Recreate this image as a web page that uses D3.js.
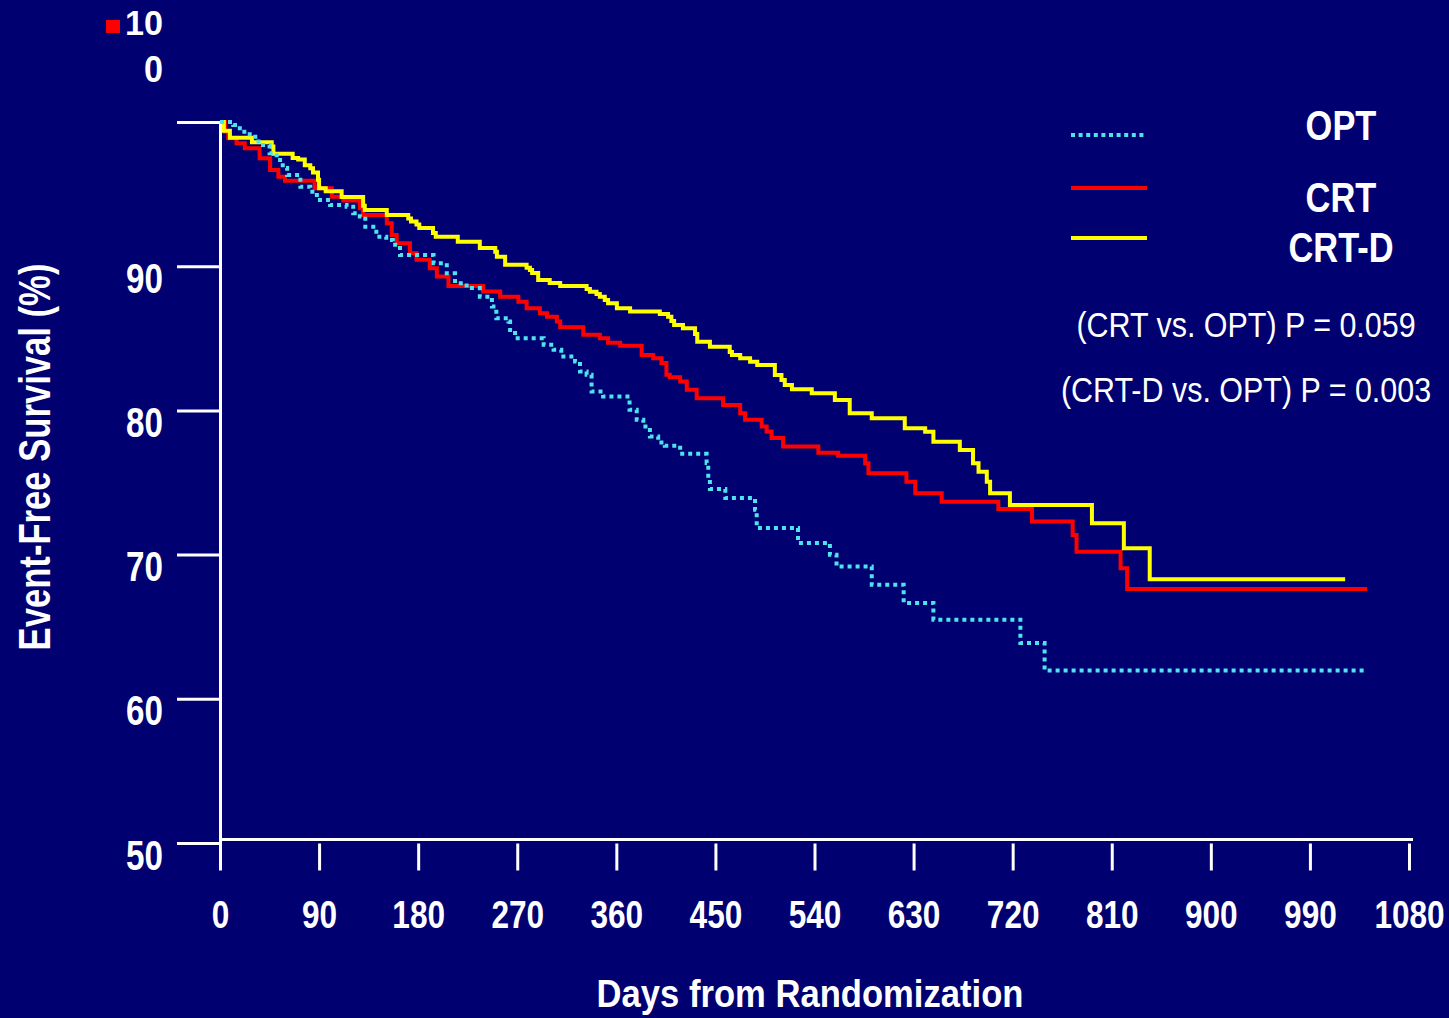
<!DOCTYPE html>
<html>
<head>
<meta charset="utf-8">
<script src="https://cdn.jsdelivr.net/npm/d3@7.9.0/dist/d3.min.js"></script>
<style>
  html, body { margin: 0; padding: 0; background: #000070; }
  svg { display: block; }
  text { font-family: "Liberation Sans Narrow", "Arial Narrow", "Liberation Sans", Arial, sans-serif; fill: #fff; }
</style>
</head>
<body>
<svg id="chart" width="1449" height="1018"></svg>
<script>
// step points (day, event-free survival %)
const optDays = [0, 12, 18, 27, 35, 45, 51.5, 57, 61, 73, 82, 88, 100, 115, 121, 127, 132, 142, 151, 157,
  163.5, 194, 206, 213.5, 224, 236, 247, 251, 262, 263.5, 268, 294, 303, 310, 322.5, 327, 333, 337.5, 348, 372,
  378.5, 384.5, 390.5, 398, 404, 418, 442, 443.5, 445, 459, 486, 487.5, 525, 554, 560, 592, 621, 648, 727, 749, 1042];
const optSurv = [100, 99.79, 99.33, 98.98, 98.41, 97.83, 97.37, 96.81, 96.33, 95.51, 95.17, 94.59, 94.25, 94.13, 93.67, 93.44, 92.74, 92.05, 91.82, 91.48,
  90.78, 90.21, 89.51, 88.82, 88.48, 87.89, 87.2, 86.39, 86.16, 85.58, 85.0, 84.55, 84.2, 83.73, 83.39, 82.7, 82.47, 81.31, 80.96, 80.04,
  79.35, 78.88, 78.19, 77.77, 77.55, 76.99, 76.35, 75.19, 74.55, 73.92, 73.11, 71.84, 70.8, 69.99, 69.18, 67.91, 66.65, 65.49, 63.87, 61.97, 61.97];

const crtDays = [0, 4.5, 7.5, 15, 22.5, 36, 45.5, 53, 59, 86, 101.5, 112, 127, 130, 151.5, 156, 160.5, 172.5, 178.5, 190.5,
  197, 207.5, 239, 254.5, 271, 278.5, 290.5, 297, 306, 309, 330, 345, 352.5, 363.5, 383, 393.5, 401, 405.5, 408.5, 418,
  424, 433, 457, 472.5, 477, 492, 496.5, 501, 511.5, 543.5, 561.5, 586, 589, 623.5, 631.5, 655.5, 707, 737.5, 774.5, 778,
  818, 824, 1042];
const crtSurv = [100, 99.33, 98.87, 98.52, 98.18, 97.48, 96.67, 96.21, 95.93, 95.4, 94.82, 94.55, 94.02, 93.55, 92.98, 92.17, 91.59, 90.9, 90.44, 89.86,
  89.28, 88.63, 88.24, 87.89, 87.54, 87.09, 86.74, 86.5, 86.16, 85.77, 85.24, 85.0, 84.7, 84.49, 83.85, 83.62, 83.28, 82.47, 82.3, 82.0,
  81.43, 80.85, 80.38, 79.8, 79.35, 78.88, 78.54, 78.08, 77.5, 77.07, 76.85, 76.33, 75.65, 75.06, 74.25, 73.67, 73.16, 72.3, 71.36, 70.2,
  69.05, 67.62, 67.62];

const crtdDays = [0, 3.5, 9, 29, 47, 48.5, 66, 71, 77, 82, 84.5, 89, 90, 96, 110.5, 130, 131.5, 151.5, 171, 173.5,
  178.5, 181, 193.5, 196, 216, 236, 250, 251.5, 259, 278.5, 281.5, 283.5, 289, 299.5, 309, 333, 336, 342, 345, 349.5,
  352.5, 360.5, 372.5, 399.5, 407, 410, 412.5, 420.5, 431.5, 433.5, 445, 463, 465, 472.5, 481.5, 488, 504, 510, 513, 519.5,
  537.5, 558.5, 572, 592, 622, 640.5, 648, 672, 684, 689, 696.5, 699.5, 717.5, 792, 821, 844.5, 1022];
const crtdSurv = [100, 99.4, 98.9, 98.6, 98.3, 97.8, 97.5, 97.4, 97.0, 96.8, 96.5, 96.0, 95.4, 95.2, 94.8, 94.2, 93.9, 93.55, 93.3, 93.1,
  92.9, 92.65, 92.3, 92.05, 91.7, 91.26, 91.0, 90.66, 90.1, 89.9, 89.74, 89.53, 89.04, 88.84, 88.63, 88.42, 88.23, 88.07, 87.89, 87.66,
  87.43, 87.08, 86.85, 86.69, 86.5, 86.2, 85.92, 85.69, 85.3, 84.76, 84.42, 84.05, 83.84, 83.61, 83.38, 83.15, 82.46, 82.11, 81.76, 81.46,
  81.19, 80.72, 79.8, 79.45, 78.76, 78.52, 77.83, 77.25, 76.33, 75.75, 75.06, 74.25, 73.44, 72.17, 70.44, 68.29, 68.29];

const xTicks = [0, 90, 180, 270, 360, 450, 540, 630, 720, 810, 900, 990, 1080];
const yTicks = [50, 60, 70, 80, 90, 100];
const seriesNames = ['OPT', 'CRT', 'CRT-D'];
const pValueLabels = ['(CRT vs. OPT) P = 0.059', '(CRT-D vs. OPT) P = 0.003'];

const svg = d3.select('#chart');

let x = d3.scaleLinear().domain([0, 1080]).range([220, 1409]);
let y = d3.scaleLinear().domain([50, 100]).range([843, 122]);

// no narrow font installed, so squeeze the text horizontally around its anchor
// k < 1 is a factor; k > 1 is a target width in px
function squeeze(sel, k, rot) {
  sel.each(function () {
    let t = d3.select(this);
    let w = this.getComputedTextLength();
    let f = k > 1 ? k / w : k;
    let px = +t.attr('x') || 0;
    let py = +t.attr('y') || 0;
    t.attr('x', 0).attr('y', 0)
      .attr('transform', `translate(${px},${py})${rot ? ` rotate(${rot})` : ''} scale(${f},1)`);
  });
}

// x axis (line sits a few px above the 50 tick)
let xAxis = svg.append('g')
  .attr('transform', `translate(0, ${y(50) - 3.5})`)
  .call(d3.axisBottom(x).tickValues(xTicks).tickFormat(d3.format('d')).tickSizeOuter(0).tickSize(31));
xAxis.select('.domain').remove();
xAxis.append('line')
  .attr('x1', x(0)).attr('x2', x(1080) + 4)
  .attr('stroke', '#fff').attr('stroke-width', 3);
xAxis.selectAll('.tick line')
  .attr('y1', 4).attr('stroke', '#fff').attr('stroke-width', 3);
xAxis.selectAll('.tick text')
  .attr('y', 88).attr('dy', null)
  .attr('font-size', 39).attr('font-weight', 'bold')
  .attr('fill', '#fff')
  .call(squeeze, 0.81);

// y axis
let yAxis = svg.append('g')
  .attr('transform', `translate(${x(0)}, 0)`)
  .call(d3.axisLeft(y).tickValues(yTicks).tickSizeOuter(0).tickSize(43));
yAxis.select('.domain').attr('stroke', '#fff').attr('stroke-width', 3);
yAxis.selectAll('.tick line').attr('stroke', '#fff').attr('stroke-width', 3);
yAxis.selectAll('.tick text')
  .filter(d => d === 100).remove();
yAxis.selectAll('.tick text')
  .attr('x', -57).attr('dy', null).attr('y', 26)
  .attr('font-size', 42).attr('font-weight', 'bold')
  .attr('fill', '#fff')
  .call(squeeze, 0.79);

// the "100" label is broken over two lines up in the corner
svg.append('rect')
  .attr('x', 106).attr('y', 20).attr('width', 14).attr('height', 13)
  .attr('fill', '#ff0000');
svg.append('text')
  .attr('x', 163).attr('y', 35)
  .attr('text-anchor', 'end')
  .attr('font-size', 36).attr('font-weight', 'bold')
  .text('10')
  .call(squeeze, 38);
svg.append('text')
  .attr('x', 163).attr('y', 82)
  .attr('text-anchor', 'end')
  .attr('font-size', 36).attr('font-weight', 'bold')
  .text('0')
  .call(squeeze, 19);

// axis titles
svg.append('text')
  .attr('x', 810).attr('y', 1007)
  .attr('text-anchor', 'middle')
  .attr('font-size', 39).attr('font-weight', 'bold')
  .text('Days from Randomization')
  .call(squeeze, 427);
svg.append('text')
  .attr('x', 50).attr('y', 457)
  .attr('text-anchor', 'middle')
  .attr('font-size', 45).attr('font-weight', 'bold')
  .text('Event-Free Survival (%)')
  .call(squeeze, 387, -90);

// survival curves
let line = d3.line()
  .x(d => x(d[0]))
  .y(d => y(d[1]))
  .curve(d3.curveStepAfter);

let series = [
  { name: seriesNames[1], pts: d3.zip(crtDays, crtSurv), color: '#ff0000', dash: null },
  { name: seriesNames[2], pts: d3.zip(crtdDays, crtdSurv), color: '#ffff00', dash: null },
  { name: seriesNames[0], pts: d3.zip(optDays, optSurv), color: '#4fe3f0', dash: '4,4' }
];

series.forEach(s => {
  svg.append('path')
    .attr('d', line(s.pts))
    .attr('fill', 'none')
    .attr('stroke', s.color)
    .attr('stroke-width', 4)
    .attr('stroke-dasharray', s.dash);
});

// legend
let legendY = [135, 188, 238];
let legendTextY = [140, 212, 262];
let legendStyle = { 'OPT': series[2], 'CRT': series[0], 'CRT-D': series[1] };

seriesNames.forEach((name, i) => {
  let s = legendStyle[name];
  svg.append('line')
    .attr('x1', 1071).attr('x2', 1147)
    .attr('y1', legendY[i]).attr('y2', legendY[i])
    .attr('stroke', s.color)
    .attr('stroke-width', 4)
    .attr('stroke-dasharray', s.dash ? '4,3.6' : null);
  svg.append('text')
    .attr('x', 1341).attr('y', legendTextY[i])
    .attr('text-anchor', 'middle')
    .attr('font-size', 42).attr('font-weight', 'bold')
    .text(name)
    .call(squeeze, 0.82);
});

pValueLabels.forEach((t, i) => {
  svg.append('text')
    .attr('x', 1246).attr('y', 337 + i * 65)
    .attr('text-anchor', 'middle')
    .attr('font-size', 35)
    .text(t)
    .call(squeeze, 0.87);
});
</script>
</body>
</html>
